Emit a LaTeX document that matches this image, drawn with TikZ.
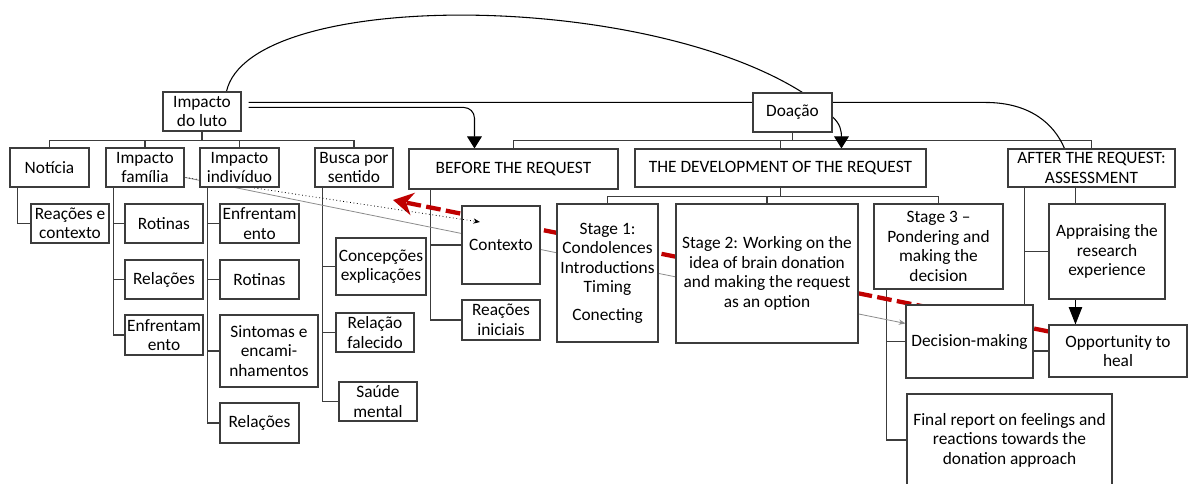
\documentclass[tikz,border=0pt]{standalone}
\usepackage{fontspec}
\setmainfont{Carlito}
\usetikzlibrary{arrows.meta,calc}
\pgfdeclarelayer{bg}
\pgfsetlayers{bg,main}
\definecolor{linkred}{RGB}{192,0,0}
\definecolor{boxline}{RGB}{60,60,60}

% box given by its corners (in px units): name, x1, y1, x2, y2, text
\newcommand\mkbox[7][]{%
  \pgfmathsetmacro\bxcx{(#3+#5)/2}%
  \pgfmathsetmacro\bxcy{(#4+#6)/2}%
  \pgfmathsetmacro\bxw{(#5-#3)*0.75}%
  \pgfmathsetmacro\bxh{(#6-#4)*0.75}%
  \node[box,minimum width=\bxw pt,minimum height=\bxh pt,#1] (#2) at (\bxcx,\bxcy) {#7};%
}

\tikzset{
  box/.style={draw=boxline, line width=0.8pt, fill=white, align=center,
    inner sep=0pt, font=\fontsize{13}{14.6}\selectfont},
  tree/.style={draw=boxline, line width=0.8pt},
  link/.style={draw=black, line width=0.8pt},
  redarrow/.style={draw=linkred, line width=3.2pt, dash pattern=on 11pt off 4pt,
    -{Stealth[length=15pt,width=17pt,inset=5pt]}},
  dotarrow/.style={draw=black, line width=0.6pt, dotted, -{Stealth[length=5pt,width=4pt]}},
  greyline/.style={draw=black!45, line width=0.6pt, -{Stealth[length=5pt,width=4pt]}},
  bigtip/.style={-{Triangle[length=9pt,width=11pt]}},
}

\begin{document}
\begin{tikzpicture}[x=0.75pt,y=-0.75pt]
\clip (0,0) rectangle (1188,484);
\begin{pgfonlayer}{bg}
  \fill[white] (0,0) rectangle (1188,484);
\end{pgfonlayer}

% grief impact branch
\mkbox{luto}{163}{92}{241}{131}{Impacto\\do luto}
\mkbox{noticia}{10}{148}{89}{187}{Notícia}
\mkbox{familia}{106}{148}{184}{187}{Impacto\\família}
\coordinate (famout) at ([shift={(1,-10)}]familia.south east);
\mkbox{contexto}{462}{206}{540}{284}{Contexto}
\coordinate (ctxin) at (480,222);
\draw[dotarrow] (famout) -- (ctxin);
\mkbox{individuo}{200}{148}{279}{187}{Impacto\\indivíduo}
\mkbox{busca}{315}{148}{393}{187}{Busca por\\sentido}
\mkbox{reacoes}{31}{204}{109}{243}{Reações e\\contexto}
\mkbox{famrot}{125}{204}{203}{243}{Rotinas}
\mkbox{famrel}{125}{260}{203}{299}{Relações}
\mkbox{famenf}{125}{315}{203}{355}{Enfrentam\\ento}
\mkbox{indenf}{220}{204}{299}{243}{Enfrentam\\ento}
\mkbox{indrot}{220}{260}{299}{299}{Rotinas}
\mkbox{indsin}{220}{315}{318}{387}{Sintomas e\\encami-\\nhamentos}
\mkbox{indrel}{220}{403}{299}{443}{Relações}
\mkbox{concep}{336}{238}{426}{295}{Concepções\\explicações}
\mkbox{relfal}{336}{313}{414}{352}{Relação\\falecido}
\mkbox{saude}{339}{382}{417}{421}{Saúde\\mental}

% donation branch
\mkbox{doacao}{753}{93}{832}{132}{Doação}
\mkbox{before}{409}{149}{618}{189}{BEFORE THE REQUEST}
\mkbox{develop}{635}{149}{926}{187}{THE DEVELOPMENT OF THE REQUEST}
\mkbox{after}{1008}{149}{1175}{187}{AFTER THE REQUEST:\\ASSESSMENT}
\mkbox{reaini}{462}{300}{540}{340}{Reações\\iniciais}
\mkbox{stageone}{557}{204}{658}{342}{Stage 1:\\Condolences\\Introductions\\Timing\\[6pt]Conecting}
\mkbox{stagetwo}{676}{204}{858}{343}{Stage 2: Working on the\\idea of brain donation\\and making the request\\as an option}
\mkbox{stagethree}{874}{204}{1003}{289}{Stage 3 –\\Pondering and\\making the\\decision}
\mkbox{decision}{906}{305}{1033}{378}{Decision-making}
\mkbox{final}{907}{394}{1112}{486}{Final report on feelings and\\reactions towards the\\donation approach}
\mkbox{appr}{1049}{204}{1165}{299}{Appraising the\\research\\experience}
\mkbox{opp}{1049}{325}{1187}{377}{Opportunity to\\heal}

\coordinate (afterstem) at ([shift={(68,0)}]after.south west);
\coordinate (redtip) at (393,200);

\begin{pgfonlayer}{bg}
  % tree connectors
  \foreach \c in {noticia,familia,individuo,busca}
    \draw[tree] (luto.south) -- ++(0,9) -| (\c.north);
  \draw[tree] ([shift={(8,0)}]noticia.south west) |- (reacoes.west);
  \foreach \c in {famrot,famrel,famenf}
    \draw[tree] ([shift={(8,0)}]familia.south west) |- (\c.west);
  \foreach \c in {indenf,indrot,indsin,indrel}
    \draw[tree] ([shift={(8,0)}]individuo.south west) |- (\c.west);
  \foreach \c in {concep,relfal,saude}
    \draw[tree] ([shift={(8,0)}]busca.south west) |- (\c.west);
  \foreach \c in {before,develop,after}
    \draw[tree] (doacao.south) -- ++(0,8) -| (\c.north);
  \foreach \c in {contexto,reaini}
    \draw[tree] ([shift={(22,0)}]before.south west) |- (\c.west);
  \foreach \c in {stageone,stagetwo,stagethree}
    \draw[tree] (develop.south) -- ++(0,9) -| (\c.north);
  \foreach \c in {decision,final}
    \draw[tree] ([shift={(13,0)}]stagethree.south west) |- (\c.west);
  \foreach \c in {appr,opp}
    \draw[tree] ([shift={(17,0)}]after.south west) |- (\c.west);
  \draw[tree] (afterstem) -- (afterstem |- appr.north);
  \draw[link, -{Triangle[length=13pt,width=10pt]}] (afterstem |- appr.south) -- (afterstem |- opp.north);

  % links between the two branches
  \draw[link] ([shift={(64,0)}]luto.north west)
    .. controls +(23,-102) and +(-163,-103) .. ([shift={(50,0)}]doacao.north west);
  \draw[link] ([shift={(7,11)}]luto.north east) -- ++(737,0)
    .. controls +(45,0) and +(-10,-24) .. ([shift={(57,0)}]after.north west);
  \draw[link, rounded corners=8pt, bigtip] ([shift={(7,16)}]luto.north east)
    -| ([shift={(66,0)}]before.north west);
  \draw[link, bigtip] ([shift={(0,4.5)}]doacao.east)
    .. controls +(8,7) and +(0,-17) .. ([shift={(207,0)}]develop.north west);

  \draw[greyline] (famout) -- ([shift={(0,19)}]decision.north west);
  \draw[redarrow] ([shift={(0,7)}]opp.north west) -- (redtip);
\end{pgfonlayer}
\end{tikzpicture}
\end{document}
